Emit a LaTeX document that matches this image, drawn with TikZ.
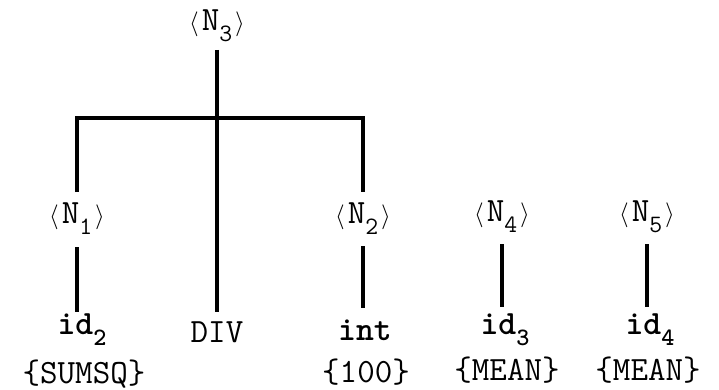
\documentclass[tikz,border=0pt]{standalone}
\usepackage{fontspec}
\newcommand{\subsc}[1]{\raisebox{-0.32em}{\fontsize{25}{25}\selectfont #1}}
\newcommand{\angl}[1]{{\fontsize{40}{40}\selectfont$#1$}}
\newcommand{\nt}[1]{\angl{\langle}\kern3pt\texttt{N\subsc{#1}}\kern3pt\angl{\rangle}}
\begin{document}
\begin{tikzpicture}[x=1pt,y=-1pt,
  lbl/.style={inner sep=0pt,font=\fontsize{34}{36}\selectfont\ttfamily},
  tok/.style={lbl,font=\fontsize{34}{36}\selectfont\ttfamily\bfseries},
  edge/.style={line width=3.2pt,line cap=butt}]
\useasboundingbox (0,0) rectangle (719,390);
% nonterminals
\node[lbl] (n3) at (217,26) {\nt{3}};
\node[lbl] (n1) at (77,219) {\nt{1}};
\node[lbl] (n2) at (363,219) {\nt{2}};
\node[lbl] (n4) at (502,217) {\nt{4}};
\node[lbl] (n5) at (647,217) {\nt{5}};
% terminals
\node[tok] (id2) at (82,330) {id\subsc{2}};
\node[lbl] (div) at (217,332) {DIV};
\node[tok] (int) at (365,330) {int};
\node[tok] (id3) at (505,330) {id\subsc{3}};
\node[tok] (id4) at (650,330) {id\subsc{4}};
% values
\node[lbl] (v2) at (84,374) {\{SUMSQ\}};
\node[lbl] (v100) at (366,372) {\{100\}};
\node[lbl] (v3) at (507,370) {\{MEAN\}};
\node[lbl] (v4) at (648,370) {\{MEAN\}};
% connectors
\coordinate (j) at (217,118);
\draw[edge] ([yshift=-24pt]n3.center) -- ([yshift=20pt]div.center);
\draw[edge] ([yshift=27pt]n1.center) |- (j) -| ([yshift=27pt]n2.center);
\draw[edge] ([yshift=-28pt]n1.center) -- ([yshift=18pt,xshift=-5pt]id2.center);
\draw[edge] ([yshift=-27pt]n2.center) -- ([yshift=22pt,xshift=-2pt]int.center);
\draw[edge] ([yshift=-27pt]n4.center) -- ([yshift=23pt,xshift=-3pt]id3.center);
\draw[edge] ([yshift=-27pt]n5.center) -- ([yshift=23pt,xshift=-3pt]id4.center);
\end{tikzpicture}
\end{document}
